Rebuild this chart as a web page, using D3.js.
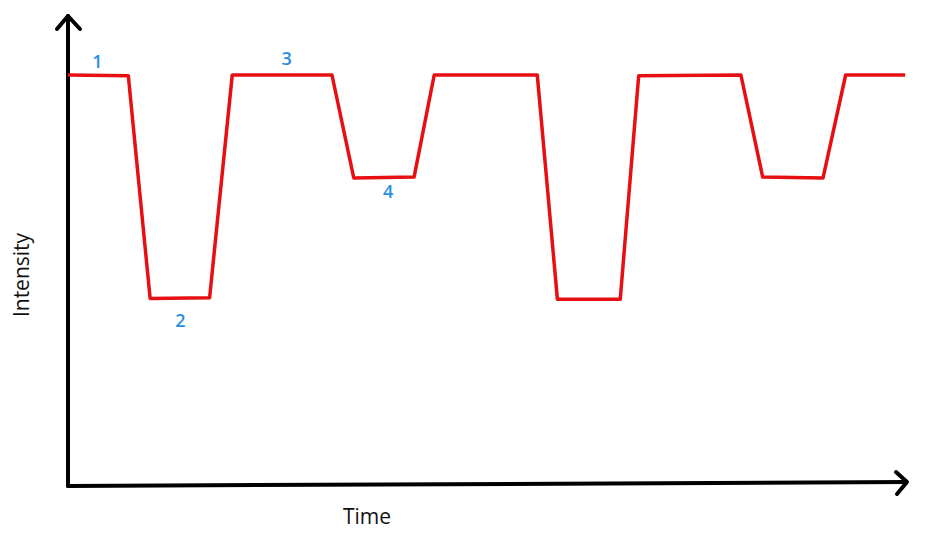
<!DOCTYPE html>
<html>
<head>
<meta charset="utf-8">
<script src="https://cdn.jsdelivr.net/npm/d3@7"></script>
<style>
  html, body { margin: 0; padding: 0; background: #fff; }
  svg { display: block; }
  text { font-family: "Open Sans", "Noto Sans", sans-serif; }
</style>
</head>
<body>
<div id="chart"></div>
<script>
// time (0-100) and intensity (0-100) of each corner of the trace
const times = [0, 7.2, 9.8, 16.9, 19.6, 31.5, 34.1, 41.3, 43.7, 56.0, 58.4, 65.9, 68.1, 80.3, 82.9, 90.1, 92.8, 99.9];
const intensities = [100, 99.8, 45.5, 45.7, 100, 100, 74.9, 75.1, 100, 100, 45.3, 45.3, 99.8, 100, 75.1, 74.9, 100, 100];

// the numbered states and where their labels sit
const stateLabels = ["1", "2", "3", "4"];
const labelTimes = [3.5, 13.4, 26.1, 38.2];
const labelIntensities = [102.8, 39.6, 103.5, 71.2];

const width = 929, height = 539;

const svg = d3.select("#chart")
  .append("svg")
    .attr("width", width)
    .attr("height", height);

const x = d3.scaleLinear().domain([0, 100]).range([68, 906]);
const y = d3.scaleLinear().domain([0, 100]).range([485, 75]);

// axes drawn as arrows
const axis = svg.append("g")
    .attr("fill", "none")
    .attr("stroke", "#000")
    .attr("stroke-width", 4)
    .attr("stroke-linecap", "round")
    .attr("stroke-linejoin", "round");

axis.append("path")
    .attr("d", d3.line()([[68, 486], [68, 16]]));
axis.append("path")
    .attr("d", d3.line()([[57, 29], [68, 16], [80, 29]]));
axis.append("path")
    .attr("d", d3.line()([[68, 486], [906, 482]]));
axis.append("path")
    .attr("d", d3.line()([[896, 472], [907, 482], [897, 494]]));

// the trace
const points = times.map((t, i) => [t, intensities[i]]);
svg.append("path")
    .datum(points)
    .attr("fill", "none")
    .attr("stroke", "#e60f12")
    .attr("stroke-width", 3.5)
    .attr("stroke-linejoin", "round")
    .attr("d", d3.line().x(d => x(d[0])).y(d => y(d[1])));

// state numbers
svg.selectAll(".state")
  .data(stateLabels)
  .enter()
  .append("text")
    .attr("class", "state")
    .attr("x", (d, i) => x(labelTimes[i]))
    .attr("y", (d, i) => y(labelIntensities[i]))
    .attr("text-anchor", "middle")
    .attr("dominant-baseline", "middle")
    .attr("fill", "#2a8ee0")
    .attr("font-size", 18)
    .attr("font-weight", 600)
    .text(d => d);

// axis titles
svg.append("text")
    .attr("x", 367)
    .attr("y", 524)
    .attr("text-anchor", "middle")
    .attr("font-size", 21)
    .attr("fill", "#111")
    .text("Time");

svg.append("text")
    .attr("transform", "translate(29,275) rotate(-90)")
    .attr("text-anchor", "middle")
    .attr("font-size", 21)
    .attr("fill", "#111")
    .text("Intensity");
</script>
</body>
</html>
